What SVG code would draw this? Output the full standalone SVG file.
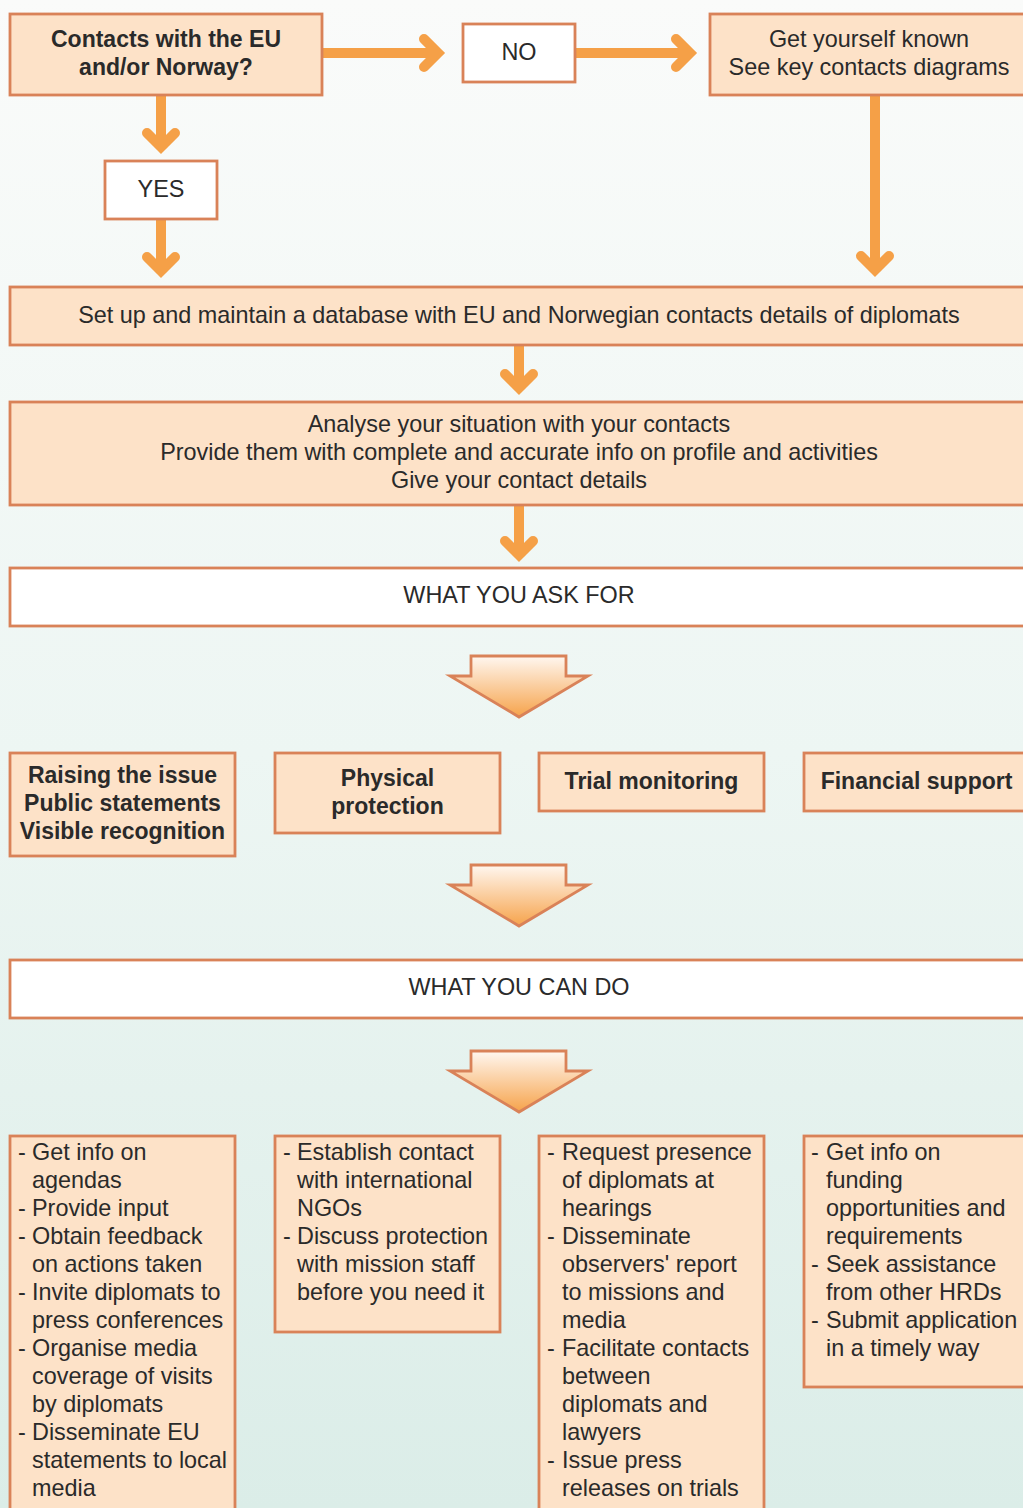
<svg xmlns="http://www.w3.org/2000/svg" width="1023" height="1508" viewBox="0 0 1023 1508">
<defs>
<linearGradient id="bg" x1="0" y1="0" x2="0" y2="1">
<stop offset="0" stop-color="#fafbfa"/>
<stop offset="0.5" stop-color="#edf6f3"/>
<stop offset="1" stop-color="#dbede8"/>
</linearGradient>
<linearGradient id="chev" x1="0" y1="0" x2="0" y2="1">
<stop offset="0" stop-color="#fff7f0"/>
<stop offset="1" stop-color="#f6a34b"/>
</linearGradient>
<path id="chevShape" d="M471 0 H566 V20 H588 L519 61 L450 20 H471 Z"/>
</defs>
<style>
.box{fill:#fde2c8;stroke:#d98258;stroke-width:2.8}
.wbox{fill:#ffffff;stroke:#d98258;stroke-width:2.8}
.conn{fill:none;stroke:#f5a047;stroke-width:10;stroke-linecap:round;stroke-linejoin:miter}
.chev{fill:url(#chev);stroke:#d98258;stroke-width:2.8;stroke-linejoin:miter}
text{font-family:"Liberation Sans",Arial,Helvetica,sans-serif;font-size:23.4px;fill:#2a2a2a}
.c{text-anchor:middle}
.b{font-weight:bold;font-size:23px}
</style>
<rect x="0" y="0" width="1023" height="1508" fill="url(#bg)"/>

<g id="connectors">
<path class="conn" d="M322 53 H438 M424 39 L438 53 L424 67"/>
<path class="conn" d="M575 53 H690 M676 39 L690 53 L676 67"/>
<path class="conn" d="M161 95 V147 M147 133 L161 147 L175 133"/>
<path class="conn" d="M161 219 V271 M147 257 L161 271 L175 257"/>
<path class="conn" d="M875 95 V270 M861 256 L875 270 L889 256"/>
<path class="conn" d="M519 345 V388 M505 374 L519 388 L533 374"/>
<path class="conn" d="M519 505 V555 M505 541 L519 555 L533 541"/>
</g>

<g id="q-contacts">
<rect class="box" x="10" y="14" width="312" height="81"/>
<text class="c b" x="166" y="47">Contacts with the EU</text>
<text class="c b" x="166" y="75">and/or Norway?</text>
</g>
<g id="no">
<rect class="wbox" x="463" y="24" width="112" height="58"/>
<text class="c" x="519" y="60">NO</text>
</g>
<g id="get-known">
<rect class="box" x="710" y="14" width="330" height="81"/>
<text class="c" x="869" y="47">Get yourself known</text>
<text class="c" x="869" y="75">See key contacts diagrams</text>
</g>
<g id="yes">
<rect class="wbox" x="105" y="161" width="112" height="58"/>
<text class="c" x="161" y="197">YES</text>
</g>
<g id="database">
<rect class="box" x="10" y="287" width="1030" height="58"/>
<text class="c" x="519" y="323">Set up and maintain a database with EU and Norwegian contacts details of diplomats</text>
</g>
<g id="analyse">
<rect class="box" x="10" y="402" width="1030" height="103"/>
<text class="c" x="519" y="432">Analyse your situation with your contacts</text>
<text class="c" x="519" y="460">Provide them with complete and accurate info on profile and activities</text>
<text class="c" x="519" y="488">Give your contact details</text>
</g>
<g id="ask-for">
<rect class="wbox" x="10" y="568" width="1030" height="58"/>
<text class="c" x="519" y="603">WHAT YOU ASK FOR</text>
</g>
<g id="chevron-1">
<use href="#chevShape" class="chev" transform="translate(0,656)"/>
</g>

<g id="cat-raising">
<rect class="box" x="10" y="753" width="225" height="103"/>
<text class="c b" x="122.5" y="783">Raising the issue</text>
<text class="c b" x="122.5" y="811">Public statements</text>
<text class="c b" x="122.5" y="839">Visible recognition</text>
</g>
<g id="cat-physical">
<rect class="box" x="275" y="753" width="225" height="80"/>
<text class="c b" x="387.5" y="786">Physical</text>
<text class="c b" x="387.5" y="814">protection</text>
</g>
<g id="cat-trial">
<rect class="box" x="539" y="753" width="225" height="58"/>
<text class="c b" x="651.5" y="789">Trial monitoring</text>
</g>
<g id="cat-financial">
<rect class="box" x="804" y="753" width="230" height="58"/>
<text class="c b" x="916.5" y="789">Financial support</text>
</g>

<g id="chevron-2">
<use href="#chevShape" class="chev" transform="translate(0,865)"/>
</g>
<g id="can-do">
<rect class="wbox" x="10" y="960" width="1030" height="58"/>
<text class="c" x="519" y="995">WHAT YOU CAN DO</text>
</g>
<g id="chevron-3">
<use href="#chevShape" class="chev" transform="translate(0,1051)"/>
</g>

<g id="do-raising">
<rect class="box" x="10" y="1136" width="225" height="390"/>
<text x="18" y="1160">-</text><text x="32" y="1160">Get info on</text>
<text x="32" y="1188">agendas</text>
<text x="18" y="1216">-</text><text x="32" y="1216">Provide input</text>
<text x="18" y="1244">-</text><text x="32" y="1244">Obtain feedback</text>
<text x="32" y="1272">on actions taken</text>
<text x="18" y="1300">-</text><text x="32" y="1300">Invite diplomats to</text>
<text x="32" y="1328">press conferences</text>
<text x="18" y="1356">-</text><text x="32" y="1356">Organise media</text>
<text x="32" y="1384">coverage of visits</text>
<text x="32" y="1412">by diplomats</text>
<text x="18" y="1440">-</text><text x="32" y="1440">Disseminate EU</text>
<text x="32" y="1468">statements to local</text>
<text x="32" y="1496">media</text>
</g>
<g id="do-physical">
<rect class="box" x="275" y="1136" width="225" height="196"/>
<text x="283" y="1160">-</text><text x="297" y="1160">Establish contact</text>
<text x="297" y="1188">with international</text>
<text x="297" y="1216">NGOs</text>
<text x="283" y="1244">-</text><text x="297" y="1244">Discuss protection</text>
<text x="297" y="1272">with mission staff</text>
<text x="297" y="1300">before you need it</text>
</g>
<g id="do-trial">
<rect class="box" x="539" y="1136" width="225" height="390"/>
<text x="547" y="1160">-</text><text x="562" y="1160">Request presence</text>
<text x="562" y="1188">of diplomats at</text>
<text x="562" y="1216">hearings</text>
<text x="547" y="1244">-</text><text x="562" y="1244">Disseminate</text>
<text x="562" y="1272">observers' report</text>
<text x="562" y="1300">to missions and</text>
<text x="562" y="1328">media</text>
<text x="547" y="1356">-</text><text x="562" y="1356">Facilitate contacts</text>
<text x="562" y="1384">between</text>
<text x="562" y="1412">diplomats and</text>
<text x="562" y="1440">lawyers</text>
<text x="547" y="1468">-</text><text x="562" y="1468">Issue press</text>
<text x="562" y="1496">releases on trials</text>
</g>
<g id="do-financial">
<rect class="box" x="804" y="1136" width="230" height="251"/>
<text x="811" y="1160">-</text><text x="826" y="1160">Get info on</text>
<text x="826" y="1188">funding</text>
<text x="826" y="1216">opportunities and</text>
<text x="826" y="1244">requirements</text>
<text x="811" y="1272">-</text><text x="826" y="1272">Seek assistance</text>
<text x="826" y="1300">from other HRDs</text>
<text x="811" y="1328">-</text><text x="826" y="1328">Submit application</text>
<text x="826" y="1356">in a timely way</text>
</g>
</svg>
